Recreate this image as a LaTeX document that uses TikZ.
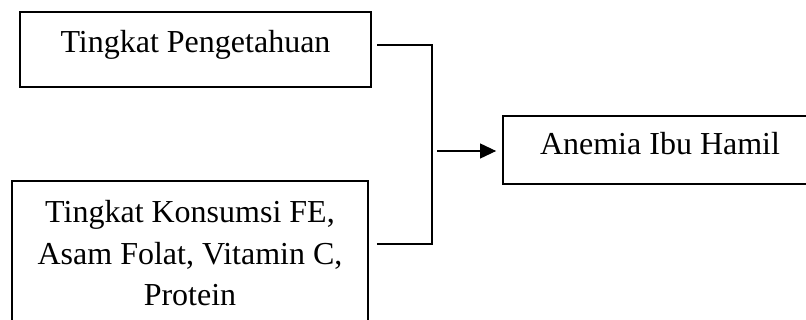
\documentclass[tikz,border=0pt]{standalone}
\usepackage{fontspec}
\setmainfont{Liberation Serif}
\usetikzlibrary{arrows.meta}
\tikzset{
  box/.style={draw, line width=1.8pt, inner sep=0pt},
  label text/.style={inner sep=0pt, anchor=base, align=center,
    font=\fontsize{32}{41.5}\selectfont},
  link/.style={line width=1.1pt},
}
\begin{document}
\begin{tikzpicture}[x=1pt, y=-1pt]
\useasboundingbox (0,0) rectangle (806,320);
\clip (0,0) rectangle (806,320);
% boxes
\node[box, minimum width=351pt, minimum height=75pt] (b1) at (195.5,49.5) {};
\node[box, minimum width=356pt, minimum height=160pt] (b2) at (190,261) {};
\node[box, minimum width=330pt, minimum height=68pt] (b3) at (668,150) {};
% texts (a multi-line node sits on the baseline of its last line)
\node[label text] (t1) at (195.5,53) {Tingkat Pengetahuan};
\node[label text] (t2) at (190,306) {Tingkat Konsumsi FE,\\Asam Folat, Vitamin C,\\Protein};
\node[label text] (t3) at (660,155) {Anemia Ibu Hamil};
% junction points
\coordinate (j1) at (432,45);
\coordinate (j2) at (432,244);
\coordinate (ja) at (437,151);
% connectors
\draw[link, shorten <=8pt, shorten >=5pt] (b2.east |- j2) -- (j2) -- (j1) -- (b1.east |- j1);
\draw[link, -{Triangle[length=16pt,width=15pt]}, shorten >=6pt] (ja) -- (b3.west |- ja);
\end{tikzpicture}
\end{document}
